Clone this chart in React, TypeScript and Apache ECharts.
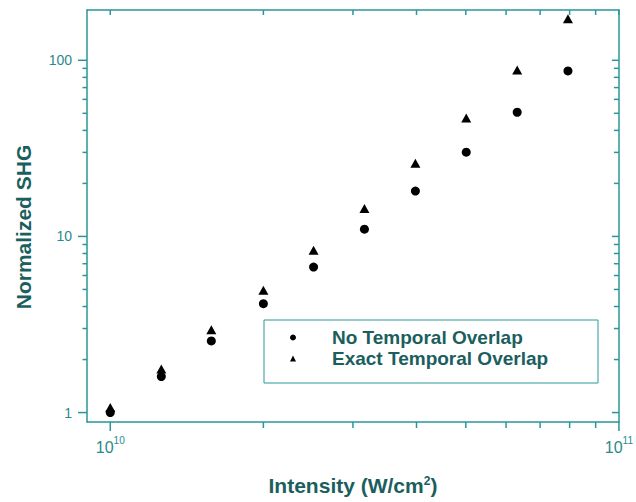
import React, { useEffect, useRef } from 'react';
import * as echarts from 'echarts';

// ---- data ----
const intensity = [1.0e10, 1.26e10, 1.58e10, 2.0e10, 2.51e10, 3.16e10, 3.98e10, 5.01e10, 6.31e10, 7.94e10];
const noOverlap = [1.0, 1.6, 2.55, 4.15, 6.7, 11.0, 18.1, 30.1, 50.7, 87];
const exactOverlap = [1.07, 1.77, 2.95, 4.95, 8.35, 14.4, 26, 47, 88, 172];
const seriesNames = ['No Temporal Overlap', 'Exact Temporal Overlap'];
const xMajorTicks = [1e10, 1e11];
const xMinorTicks = [2e10, 3e10, 4e10, 5e10, 6e10, 7e10, 8e10, 9e10];
const yMajorTicks = [1, 10, 100];
const yMinorTicks = [2, 3, 4, 5, 6, 7, 8, 9, 20, 30, 40, 50, 60, 70, 80, 90];
const X_MIN = 9e9;
const X_MAX = 1e11;
const Y_MIN = 0.884;
const Y_MAX = 193;

const FONT = '"Liberation Sans", Arial, Helvetica, sans-serif';
const AXIS = '#2a9797';
const LABEL = '#2a8a8a';
const TEXT = '#1b5e5e';

export default function App() {
  const ref = useRef<HTMLDivElement>(null);
  useEffect(() => {
    if (!ref.current) return;
    const chart = echarts.init(ref.current, null, { renderer: 'svg' });
    const isPow10 = (v: number) => {
      const l = Math.log10(v);
      return Math.abs(l - Math.round(l)) < 1e-6;
    };
    const tickLine = (x1: number, y1: number, x2: number, y2: number) => ({
      type: 'line',
      shape: { x1, y1, x2, y2 },
      style: { stroke: AXIS, lineWidth: 1.5 },
    });
    const xTickData = [
      ...xMajorTicks.map((v) => [v, Y_MIN, 1]),
      ...xMinorTicks.map((v) => [v, Y_MIN, 0]),
    ];
    const yTickData = [
      ...yMajorTicks.map((v) => [X_MIN, v, 1]),
      ...yMinorTicks.map((v) => [X_MIN, v, 0]),
    ];
    const option: any = {
      animation: false,
      grid: { left: 87, right: 9, top: 10, bottom: 80, containLabel: false },
      xAxis: [
        {
          type: 'log',
          min: X_MIN,
          max: X_MAX,
          position: 'bottom',
          axisLine: { show: true, lineStyle: { color: AXIS, width: 1.5 } },
          axisTick: { show: false },
          splitLine: { show: false },
          axisLabel: {
            margin: 13,
            color: LABEL,
            fontFamily: FONT,
            fontSize: 16,
            showMinLabel: false,
            formatter: (v: number) =>
              isPow10(v) ? `{b|10}{s|${Math.round(Math.log10(v))}}` : '',
            rich: {
              b: { fontSize: 16, fontFamily: FONT, color: LABEL, verticalAlign: 'bottom', lineHeight: 20 },
              s: { fontSize: 10, fontFamily: FONT, color: LABEL, verticalAlign: 'top', lineHeight: 10 },
            },
          },
          name: 'Intensity (W/cm{s|2})',
          nameLocation: 'middle',
          nameGap: 53,
          nameTextStyle: {
            fontFamily: FONT,
            fontSize: 21,
            fontWeight: 'bold',
            color: TEXT,
            rich: {
              s: { fontSize: 12, fontFamily: FONT, fontWeight: 'bold', color: TEXT, verticalAlign: 'top', lineHeight: 12 },
            },
          },
        },
        {
          type: 'log',
          min: X_MIN,
          max: X_MAX,
          position: 'top',
          axisLine: { show: true, lineStyle: { color: AXIS, width: 1.5 } },
          axisTick: { show: false },
          axisLabel: { show: false },
          splitLine: { show: false },
        },
      ],
      yAxis: [
        {
          type: 'log',
          min: Y_MIN,
          max: Y_MAX,
          position: 'left',
          axisLine: { show: true, lineStyle: { color: AXIS, width: 1.5 } },
          axisTick: { show: false },
          splitLine: { show: false },
          axisLabel: {
            margin: 15,
            color: LABEL,
            fontFamily: FONT,
            fontSize: 14,
            showMinLabel: false,
            showMaxLabel: false,
            formatter: (v: number) => (isPow10(v) ? String(Math.round(v)) : ''),
          },
          name: 'Normalized SHG',
          nameLocation: 'middle',
          nameGap: 53,
          nameTextStyle: {
            fontFamily: FONT,
            fontSize: 21,
            fontWeight: 'bold',
            color: TEXT,
            padding: [0, 22, 0, 0],
          },
        },
        {
          type: 'log',
          min: Y_MIN,
          max: Y_MAX,
          position: 'right',
          axisLine: { show: true, lineStyle: { color: AXIS, width: 1.5 } },
          axisTick: { show: false },
          axisLabel: { show: false },
          splitLine: { show: false },
        },
      ],
      legend: {
        orient: 'vertical',
        left: 264,
        top: 320,
        padding: [7, 32, 14, 26],
        itemWidth: 6,
        itemHeight: 6,
        itemGap: 0,
        borderColor: AXIS,
        borderWidth: 1,
        selectedMode: false,
        textStyle: {
          fontFamily: FONT,
          fontSize: 19,
          fontWeight: 'bold',
          color: TEXT,
          lineHeight: 21,
          padding: [0, 0, 0, 31],
          width: 234,
        },
        data: [
          { name: seriesNames[0], icon: 'circle' },
          { name: seriesNames[1], icon: 'triangle' },
        ],
      },
      series: [
        {
          name: seriesNames[0],
          type: 'scatter',
          symbol: 'circle',
          symbolSize: 9,
          itemStyle: { color: '#000', opacity: 1 },
          data: intensity.map((x, i) => [x, noOverlap[i]]),
        },
        {
          name: seriesNames[1],
          type: 'scatter',
          symbol: 'triangle',
          symbolSize: [10, 9],
          itemStyle: { color: '#000', opacity: 1 },
          data: intensity.map((x, i) => [x, exactOverlap[i]]),
        },
        {
          name: 'xTicks',
          type: 'custom',
          silent: true,
          clip: false,
          data: xTickData,
          renderItem: (params: any, api: any) => {
            const x = api.value(0);
            const major = api.value(2) === 1;
            const b = api.coord([x, Y_MIN]);
            const t = api.coord([x, Y_MAX]);
            return {
              type: 'group',
              children: [
                tickLine(b[0], b[1], b[0], b[1] + (major ? 9 : 6)),
                tickLine(t[0], t[1], t[0], t[1] + 5),
              ],
            };
          },
        },
        {
          name: 'yTicks',
          type: 'custom',
          silent: true,
          clip: false,
          data: yTickData,
          renderItem: (params: any, api: any) => {
            const y = api.value(1);
            const major = api.value(2) === 1;
            const l = api.coord([X_MIN, y]);
            const r = api.coord([X_MAX, y]);
            return {
              type: 'group',
              children: [
                tickLine(l[0], l[1], l[0] - (major ? 9 : 4.5), l[1]),
                tickLine(r[0], r[1], r[0] - (major ? 7 : 5), r[1]),
              ],
            };
          },
        },
      ],
    };
    chart.setOption(option);
    return () => chart.dispose();
  }, []);
  return (
    <div
      ref={ref}
      style={{ position: 'fixed', left: 0, top: 0, width: 636, height: 502, background: '#fff' }}
    />
  );
}
